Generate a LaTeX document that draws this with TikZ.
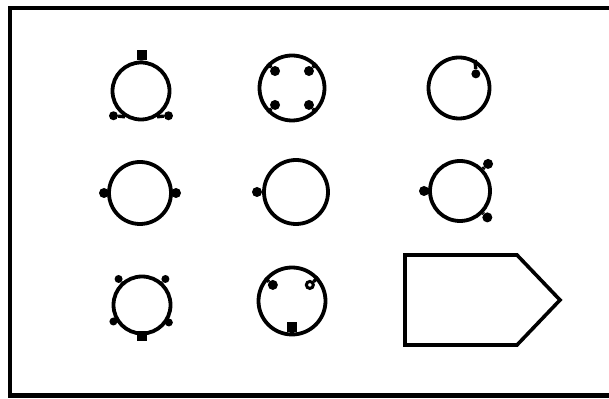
\documentclass[tikz,border=0pt]{standalone}
\usetikzlibrary{positioning}
\tikzset{
  ring/.style={draw, circle, line width=3.8pt, inner sep=0pt},
  pin/.style={circle, fill, inner sep=0pt, minimum size=10pt},
  pinopen/.style={circle, draw, fill=white, line width=3pt, inner sep=0pt, minimum size=7pt},
  pinsq/.style={rectangle, fill, inner sep=0pt, minimum size=10pt},
  stub/.style={line width=3.4pt},
}
\begin{document}
\begin{tikzpicture}[x=1pt, y=1pt]
    \useasboundingbox (0,0) rectangle (609,398);

    % Frame, open on the right
    \draw[line width=4pt, line join=miter] (609,389.5) -- (10,389.5) -- (10,2.5) -- (609,2.5);

    % Row 1
    \node[ring, minimum size=57pt] (ringA) at (141,307) {};
    \node[pinsq] (ringAtop) at (142,343) {};
    \draw[stub] (ringA.north) -- (ringAtop);
    \foreach \a/\b [count=\i] in {222/238, 318/302} {
        \node[pin, minimum size=9pt] (ringAp\i) at ([shift={(\a:37pt)}]ringA.center) {};
        \draw[stub] (ringAp\i) -- (ringA.\b);
    }

    \node[ring, minimum size=65pt] (ringB) at (292,310) {};
    \foreach \a [count=\i] in {45, 135, 225, 315} {
        \node[pin] (ringBp\i) at ([shift={(\a:24pt)}]ringB.center) {};
        \draw[stub] (ringBp\i) -- (ringB.\a);
    }

    \node[ring, minimum size=61pt] (ringC) at (459,310) {};
    \node[pin, minimum size=9pt] (ringCp) at ([shift={(40:22pt)}]ringC.center) {};
    \draw[stub] (ringCp) -- (ringC.60);

    % Row 2
    \node[ring, minimum size=62pt] (ringD) at (140,205) {};
    \foreach \a [count=\i] in {0, 180} {
        \node[pin] (ringDp\i) at ([shift={(\a:36pt)}]ringD.center) {};
    }

    \node[ring, minimum size=64pt] (ringE) at (296,206) {};
    \node[pin] (ringEp) at ([shift={(180:39pt)}]ringE.center) {};
    \draw[stub] (ringEp) -- (ringE.west);

    \node[ring, minimum size=60pt] (ringF) at (460,207) {};
    \foreach \a/\d [count=\i] in {180/36, 44/39, -44/38} {
        \node[pin] (ringFp\i) at ([shift={(\a:\d pt)}]ringF.center) {};
        \draw[stub] (ringFp\i) -- (ringF.\a);
    }

    % Row 3
    \node[ring, minimum size=57pt] (ringG) at (142,93) {};
    \foreach \a/\d [count=\i] in {132/35, 48/35, 210/33, 327/32} {
        \node[pin, minimum size=8pt] (ringGp\i) at ([shift={(\a:\d pt)}]ringG.center) {};
        \draw[stub] (ringGp\i) -- (ringG.\a);
    }
    \node[pinsq] (ringGbot) at ([shift={(270:31pt)}]ringG.center) {};

    \node[ring, minimum size=67pt] (ringH) at (292,97) {};
    \node[pin] (ringHp1) at ([shift={(140:25pt)}]ringH.center) {};
    \node[pinopen] (ringHp2) at ([shift={(42:24pt)}]ringH.center) {};
    \node[pinsq] (ringHp3) at ([shift={(270:26pt)}]ringH.center) {};
    \foreach \i/\a in {1/140, 2/42, 3/270} {
        \draw[stub] (ringHp\i) -- (ringH.\a);
    }

    % Pentagon tag
    \draw[line width=3.6pt, line join=miter] (405,143) coordinate (tagA) -- (517,143) -- (560,98) coordinate (tagTip) -- (517,53) -- (405,53) -- cycle;
\end{tikzpicture}
\end{document}
